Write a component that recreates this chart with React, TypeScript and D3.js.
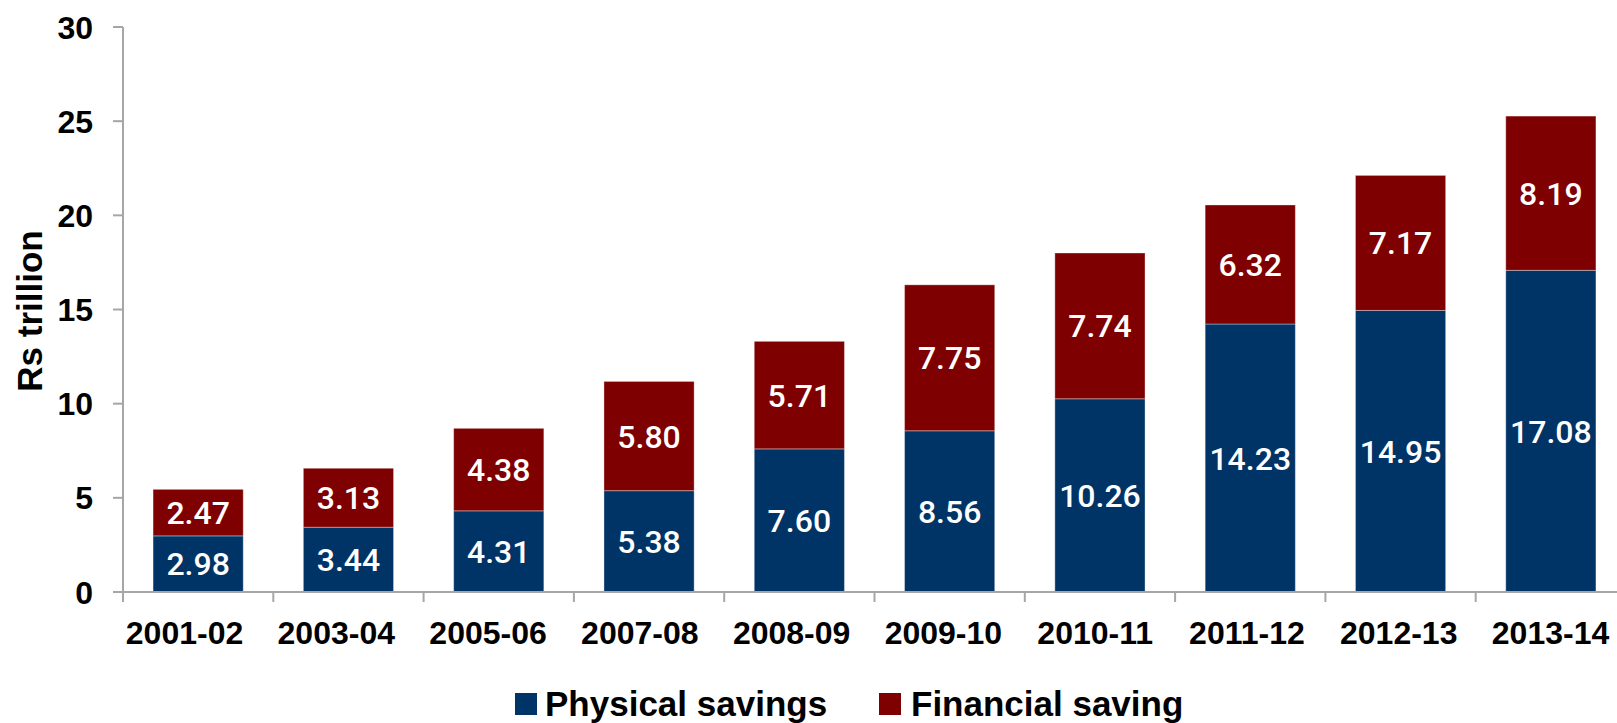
import React from "react";
import * as d3 from "d3";

const categories = ["2001-02", "2003-04", "2005-06", "2007-08", "2008-09", "2009-10", "2010-11", "2011-12", "2012-13", "2013-14"];
const physical = [2.98, 3.44, 4.31, 5.38, 7.60, 8.56, 10.26, 14.23, 14.95, 17.08];
const financial = [2.47, 3.13, 4.38, 5.80, 5.71, 7.75, 7.74, 6.32, 7.17, 8.19];
const yTicks = [0, 5, 10, 15, 20, 25, 30];
const seriesNames = ["Physical savings", "Financial saving"];
const seriesColors = ["#003466", "#7f0000"];

const W = 1617;
const H = 723;

export default function App() {
  const x0 = 123;
  const step = 150.3;
  const x = d3.scaleBand<string>().domain(categories).range([x0, x0 + step * categories.length]).paddingInner(0.4).paddingOuter(0.2);
  const xLabel = d3.scalePoint<string>().domain(categories).range([184.5, 1550.5]);
  const y = d3.scaleLinear().domain([0, 30]).range([592, 27]);

  const rows = categories.map((c, i) => ({ cat: c, physical: physical[i], financial: financial[i] }));
  const stack = d3.stack<any>().keys(["physical", "financial"]);
  const layers = stack(rows);

  const axisColor = "#a6a6a6";
  const font = "'Liberation Sans', Arial, sans-serif";
  const boundaries = d3.range(categories.length + 1).map((i) => x0 + i * x.step());

  return (
    <svg width={W} height={H} style={{ position: "absolute", left: 0, top: 0, display: "block", overflow: "hidden", background: "#fff" }}>
      {/* bars */}
      {layers.map((layer, li) => (
        <g key={li}>
          {layer.map((d, i) => (
            <rect
              key={i}
              x={x(categories[i])}
              y={y(d[1])}
              width={x.bandwidth()}
              height={y(d[0]) - y(d[1])}
              fill={seriesColors[li]}
              stroke="#ffffff"
              strokeOpacity={0.35}
              strokeWidth={1}
            />
          ))}
          {layer.map((d, i) => (
            <text
              key={"t" + i}
              x={(x(categories[i]) as number) + x.bandwidth() / 2}
              y={(y(d[0]) + y(d[1])) / 2}
              dy="0.36em"
              textAnchor="middle"
              fill="#ffffff"
              fontFamily="Roboto, 'Liberation Sans', sans-serif"
              fontWeight={500}
              fontSize={32}
            >
              {(d[1] - d[0]).toFixed(2)}
            </text>
          ))}
        </g>
      ))}

      {/* y axis */}
      <line x1={x0} x2={x0} y1={y(30)} y2={y(0)} stroke={axisColor} strokeWidth={2} />
      {yTicks.map((t) => (
        <g key={t}>
          <line x1={x0 - 10} x2={x0} y1={y(t)} y2={y(t)} stroke={axisColor} strokeWidth={2} />
          <text x={93} y={y(t)} dy="0.36em" textAnchor="end" fontFamily={font} fontWeight="bold" fontSize={32} fill="#000">
            {t}
          </text>
        </g>
      ))}
      <text
        transform={`translate(42, 311) rotate(-90)`}
        textAnchor="middle"
        fontFamily={font}
        fontWeight="bold"
        fontSize={35}
        fill="#000"
      >
        Rs trillion
      </text>

      {/* x axis */}
      <line x1={x0 - 10} x2={x0 + step * categories.length} y1={y(0)} y2={y(0)} stroke={axisColor} strokeWidth={2} />
      {boundaries.map((b, i) => (
        <line key={i} x1={b} x2={b} y1={y(0)} y2={y(0) + 10} stroke={axisColor} strokeWidth={2} />
      ))}
      {categories.map((c) => (
        <text key={c} x={xLabel(c)} y={644} textAnchor="middle" fontFamily={font} fontWeight="bold" fontSize={32} fill="#000">
          {c}
        </text>
      ))}

      {/* legend */}
      <g>
        <rect x={515} y={693} width={22} height={22} fill={seriesColors[0]} />
        <text x={545} y={716} fontFamily={font} fontWeight="bold" fontSize={35} fill="#000">
          {seriesNames[0]}
        </text>
        <rect x={879} y={693} width={22} height={22} fill={seriesColors[1]} />
        <text x={911} y={716} fontFamily={font} fontWeight="bold" fontSize={35} fill="#000">
          {seriesNames[1]}
        </text>
      </g>
    </svg>
  );
}
